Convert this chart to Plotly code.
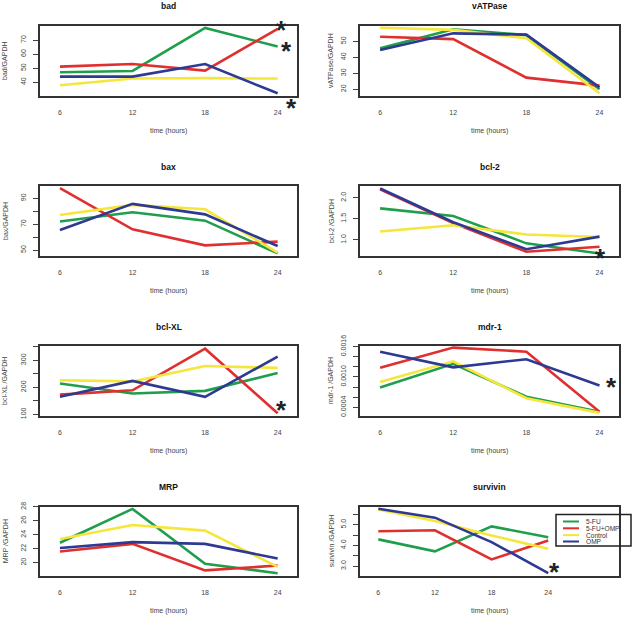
import plotly.graph_objects as go

W, H = 637, 618

hours = [6, 12, 18, 24]
series_names = ["5-FU", "5-FU+OMP", "Control", "OMP"]
series_colors = ["#1f9e4c", "#e02f2f", "#f5e63c", "#2e3a92"]

# ---- data: one list per gene, per treatment (5-FU, 5-FU+OMP, Control, OMP) ----
bad_5fu = [47.1, 48.0, 78.6, 65.4]
bad_5fuomp = [51.1, 53.0, 48.3, 77.9]
bad_control = [37.9, 42.6, 42.9, 42.6]
bad_omp = [44.0, 44.0, 52.9, 32.1]

vatpase_5fu = [45.6, 57.5, 53.9, 20.0]
vatpase_5fuomp = [52.9, 51.4, 27.3, 22.3]
vatpase_control = [58.5, 57.2, 51.9, 17.5]
vatpase_omp = [44.6, 55.0, 54.2, 21.2]

bax_5fu = [72.0, 79.2, 72.7, 47.4]
bax_5fuomp = [97.8, 66.0, 53.6, 56.5]
bax_control = [77.1, 84.9, 81.5, 48.0]
bax_omp = [65.5, 85.7, 77.6, 53.1]

bcl2_5fu = [1.75, 1.57, 0.92, 0.68]
bcl2_5fuomp = [2.20, 1.40, 0.72, 0.84]
bcl2_control = [1.20, 1.35, 1.13, 1.07]
bcl2_omp = [2.22, 1.42, 0.78, 1.08]

bclxl_5fu = [214, 177, 187, 253]
bclxl_5fuomp = [173, 189, 343, 104]
bclxl_control = [226, 222, 279, 272]
bclxl_omp = [165, 224, 165, 314]

mdr1_5fu = [0.00079, 0.00126, 0.00061, 0.00031]
mdr1_5fuomp = [0.00118, 0.00158, 0.00150, 0.00031]
mdr1_control = [0.00090, 0.00131, 0.00058, 0.00029]
mdr1_omp = [0.00150, 0.00119, 0.00135, 0.00083]

mrp_5fu = [22.86, 27.7, 19.86, 18.5]
mrp_5fuomp = [21.6, 22.7, 18.9, 19.6]
mrp_control = [23.4, 25.4, 24.6, 19.4]
mrp_omp = [22.1, 22.95, 22.7, 20.6]

survivin_5fu = [4.29, 3.71, 4.92, 4.39]
survivin_5fuomp = [4.68, 4.73, 3.32, 4.24]
survivin_control = [5.73, 5.18, 4.48, 3.84]
survivin_omp = [5.77, 5.34, 4.16, 2.66]

# y tick values and labels
bad_ticks = [40, 50, 60, 70]
bad_labels = ["40", "50", "60", "70"]
vatpase_ticks = [20, 30, 40, 50]
vatpase_labels = ["20", "30", "40", "50"]
bax_ticks = [50, 60, 70, 80, 90]
bax_labels = ["50", "", "70", "", "90"]
bcl2_ticks = [1.0, 1.5, 2.0]
bcl2_labels = ["1.0", "1.5", "2.0"]
bclxl_ticks = [100, 150, 200, 250, 300, 350]
bclxl_labels = ["100", "", "200", "", "300", ""]
mdr1_ticks = [0.0004, 0.0006, 0.0008, 0.0010, 0.0012, 0.0014, 0.0016]
mdr1_labels = ["0.0004", "", "", "0.0010", "", "", "0.0016"]
mrp_ticks = [20, 22, 24, 26, 28]
mrp_labels = ["20", "22", "24", "26", "28"]
survivin_ticks = [3.0, 3.5, 4.0, 4.5, 5.0, 5.5]
survivin_labels = ["3.0", "", "4.0", "", "5.0", ""]

# significance asterisks (x, y) in data units
bad_stars = [(24.3, 78.6), (24.77, 63.6), (25.18, 23.1)]
bcl2_stars = [(24.1, 0.62)]
bclxl_stars = [(24.3, 125)]
mdr1_stars = [(24.96, 0.00084)]
survivin_stars = [(24.64, 2.83)]

panels = [
    dict(title="bad", ylab="bad/GAPDH", vals=[bad_5fu, bad_5fuomp, bad_control, bad_omp],
         yr=[30.2, 80.0], tv=bad_ticks, tt=bad_labels, stars=bad_stars, xr=[4.35, 25.6]),
    dict(title="vATPase", ylab="vATPase/GAPDH", vals=[vatpase_5fu, vatpase_5fuomp, vatpase_control, vatpase_omp],
         yr=[15.8, 59.6], tv=vatpase_ticks, tt=vatpase_labels, stars=[], xr=[4.35, 25.6]),
    dict(title="bax", ylab="bax/GAPDH", vals=[bax_5fu, bax_5fuomp, bax_control, bax_omp],
         yr=[45.4, 99.5], tv=bax_ticks, tt=bax_labels, stars=[], xr=[4.35, 25.6]),
    dict(title="bcl-2", ylab="bcl-2 /GAPDH", vals=[bcl2_5fu, bcl2_5fuomp, bcl2_control, bcl2_omp],
         yr=[0.62, 2.28], tv=bcl2_ticks, tt=bcl2_labels, stars=bcl2_stars, xr=[4.35, 25.6]),
    dict(title="bcl-XL", ylab="bcl-XL /GAPDH", vals=[bclxl_5fu, bclxl_5fuomp, bclxl_control, bclxl_omp],
         yr=[94, 353], tv=bclxl_ticks, tt=bclxl_labels, stars=bclxl_stars, xr=[4.35, 25.6]),
    dict(title="mdr-1", ylab="mdr-1 /GAPDH", vals=[mdr1_5fu, mdr1_5fuomp, mdr1_control, mdr1_omp],
         yr=[0.000228, 0.001612], tv=mdr1_ticks, tt=mdr1_labels, stars=mdr1_stars, xr=[4.35, 25.6]),
    dict(title="MRP", ylab="MRP /GAPDH", vals=[mrp_5fu, mrp_5fuomp, mrp_control, mrp_omp],
         yr=[18.1, 28.05], tv=mrp_ticks, tt=mrp_labels, stars=[], xr=[4.35, 25.6]),
    dict(title="survivin", ylab="survivin /GAPDH", vals=[survivin_5fu, survivin_5fuomp, survivin_control, survivin_omp],
         yr=[2.52, 5.88], tv=survivin_ticks, tt=survivin_labels, stars=survivin_stars, xr=[4.06, 31.5]),
]

# plot boxes in pixels
col_x = [(40, 297), (360, 619)]
row_y = [(26, 96), (186, 256), (346, 416), (506.5, 576)]
ytitle_x = [5, 331]

FONT = "Liberation Sans, Arial, Helvetica, sans-serif"

def px(x):
    return x / W

def py(y):
    return 1 - y / H

fig = go.Figure()
annotations = []

for i, p in enumerate(panels):
    r, c = divmod(i, 2)
    k = "" if i == 0 else str(i + 1)
    x0, x1 = col_x[c]
    y0, y1 = row_y[r]
    for s, vals in enumerate(p["vals"]):
        fig.add_trace(go.Scatter(
            x=hours, y=vals, mode="lines", name=series_names[s],
            line=dict(color=series_colors[s], width=2.6),
            xaxis="x" + k, yaxis="y" + k, showlegend=False,
        ))
    fig.layout["xaxis" + k] = dict(
        domain=[px(x0), px(x1)], anchor="y" + k, range=p["xr"], automargin=False,
        tickvals=hours, ticktext=[str(h) for h in hours], ticks="",
        showgrid=False, zeroline=False, showline=True, mirror=True,
        linecolor="#333333", linewidth=2,
        tickfont=dict(size=7, color="#444444", family=FONT),
        ticklabelstandoff=9,
    )
    fig.layout["yaxis" + k] = dict(
        domain=[py(y1), py(y0)], anchor="x" + k, range=p["yr"], automargin=False,
        tickvals=p["tv"], ticktext=p["tt"], ticks="outside", ticklen=5,
        tickwidth=1, tickcolor="#444444", tickangle=-90,
        showgrid=False, zeroline=False, showline=True, mirror=True,
        linecolor="#333333", linewidth=2,
        tickfont=dict(size=7, color="#444444", family=FONT),
        ticklabelstandoff=4,
    )
    cx = (x0 + x1) / 2
    annotations.append(dict(text="<b>" + p["title"] + "</b>", x=px(cx), y=py(y0 - 19.5),
                            xref="paper", yref="paper", showarrow=False,
                            xanchor="center", yanchor="middle",
                            font=dict(size=8.5, color="#111111", family=FONT)))
    annotations.append(dict(text="time (hours)", x=px(cx), y=py(y1 + 34.8),
                            xref="paper", yref="paper", showarrow=False,
                            xanchor="center", yanchor="middle",
                            font=dict(size=7, color="#444444", family=FONT)))
    annotations.append(dict(text=p["ylab"], x=px(ytitle_x[c]), y=py((y0 + y1) / 2),
                            xref="paper", yref="paper", showarrow=False, textangle=-90,
                            xanchor="center", yanchor="middle",
                            font=dict(size=7, color="#444444", family=FONT)))
    # asterisks: x in data units, y converted from data units to paper fraction
    d0, d1 = py(y1), py(y0)
    r0, r1 = p["yr"]
    for (sx, sy) in p["stars"]:
        frac = (sy - r0) / (r1 - r0)
        annotations.append(dict(text="<b>*</b>", x=sx, y=d0 + frac * (d1 - d0),
                                xref="x" + k, yref="paper",
                                showarrow=False, xanchor="center", yanchor="middle",
                                yshift=-2,
                                font=dict(size=26, color="#222222", family=FONT)))

# manual legend (survivin panel)
shapes = [dict(type="rect", xref="paper", yref="paper",
               x0=px(556), x1=px(631), y0=py(546), y1=py(514.5),
               line=dict(color="#222222", width=1.5), fillcolor="rgba(0,0,0,0)")]
leg_rows = [521.5, 528.3, 535.1, 541.5]
for s, name in enumerate(series_names):
    yy = leg_rows[s]
    shapes.append(dict(type="line", xref="paper", yref="paper",
                       x0=px(563), x1=px(579), y0=py(yy), y1=py(yy),
                       line=dict(color=series_colors[s], width=2)))
    annotations.append(dict(text=name, x=px(584), y=py(yy), xref="paper", yref="paper",
                            showarrow=False, xanchor="left", yanchor="middle",
                            font=dict(size=6.6, color="#333333", family=FONT)))

fig.update_layout(
    width=W, height=H, margin=dict(l=0, r=0, t=0, b=0, autoexpand=False),
    paper_bgcolor="white", plot_bgcolor="white",
    showlegend=False, annotations=annotations, shapes=shapes,
    font=dict(family=FONT),
)

post = (
    "document.documentElement.style.margin='0';document.documentElement.style.overflow='hidden';"
    "document.body.style.margin='0';"
    "document.body.style.overflow='hidden';"
    "var gd=document.getElementById('{plot_id}');"
    "gd.style.position='fixed';gd.style.top='0px';gd.style.left='0px';"
)

fig.write_html("out.html", config={"displayModeBar": False}, post_script=post)
